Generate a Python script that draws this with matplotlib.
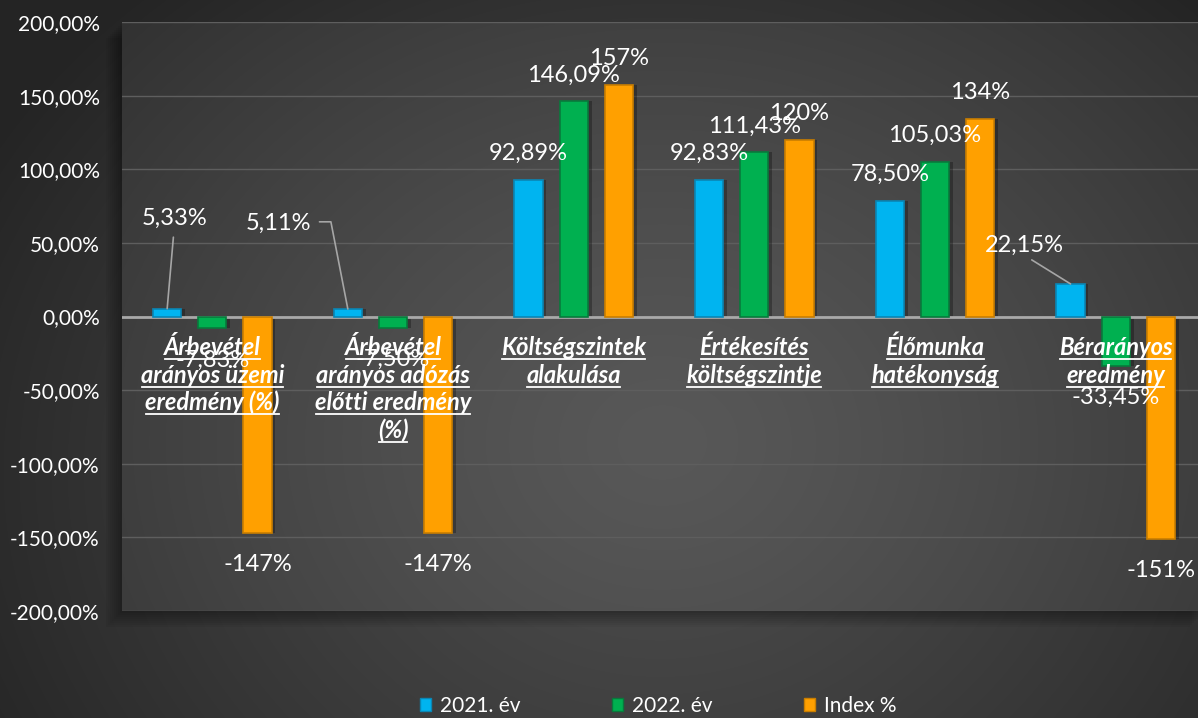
"""Grouped bar chart — 2021 vs 2022 ratios with index, dark Excel style."""

import matplotlib
matplotlib.use("Agg")
import matplotlib.pyplot as plt
import matplotlib.colors as mcolors
from matplotlib.patches import Patch, Rectangle
from matplotlib.lines import Line2D
import numpy as np

plt.rcParams["font.family"] = ["Lato", "DejaVu Sans"]

# ---- data ----
categories = [
    ["Árbevétel", "arányos üzemi", "eredmény (%)"],
    ["Árbevétel", "arányos adózás", "előtti eredmény", "(%)"],
    ["Költségszintek", "alakulása"],
    ["Értékesítés", "költségszintje"],
    ["Élőmunka", "hatékonyság"],
    ["Bérarányos", "eredmény"],
]
series_names = ["2021. év", "2022. év", "Index %"]
values_2021 = [5.33, 5.11, 92.89, 92.83, 78.50, 22.15]
values_2022 = [-7.83, -7.50, 146.09, 111.43, 105.03, -33.45]
values_index = [-147, -147, 157, 120, 134, -151]
y_ticks = [-200, -150, -100, -50, 0, 50, 100, 150, 200]

colors = ["#00B4F0", "#00B050", "#FFA000"]
edges = ["#0A86B4", "#087A3C", "#C97E00"]

W, H, DPI = 1198, 718, 100


def radial(w, h, cx, cy, r, c_in, c_out):
    yy, xx = np.mgrid[0:h, 0:w]
    d = np.clip(np.hypot(xx - cx, (yy - cy) * 1.2) / r, 0, 1) ** 1.3
    a = np.array(mcolors.to_rgb(c_in))
    b = np.array(mcolors.to_rgb(c_out))
    return a * (1 - d)[..., None] + b * d[..., None]


def fmt2(v):
    return f"{v:.2f}".replace(".", ",") + "%"


fig = plt.figure(figsize=(W / DPI, H / DPI), dpi=DPI)

# background
bg = fig.add_axes([0, 0, 1, 1])
bg.imshow(radial(W, H, 660, 470, 780, "#4c4c4c", "#242424"),
          extent=(0, 1, 0, 1), aspect="auto", origin="upper")
bg.set_xlim(0, 1)
bg.set_ylim(0, 1)
bg.axis("off")

# plot area placement (pixels)
px0, px1, py_top, py_bot = 122, 1206, 22, 611
axpos = [px0 / W, 1 - py_bot / H, (px1 - px0) / W, (py_bot - py_top) / H]

# soft shadow behind the plot area
for k in range(8):
    off = 2 + k * 2
    bg.add_patch(Rectangle((axpos[0] - off / W, axpos[1] - off / H),
                           axpos[2], axpos[3], facecolor="black",
                           alpha=0.045, edgecolor="none"))

ax = fig.add_axes(axpos)
ax.set_zorder(1)
ax.patch.set_alpha(0)
aw, ah = px1 - px0, py_bot - py_top
ax.imshow(radial(aw, ah, 540, 420, 760, "#585858", "#303030"),
          extent=(0, 1, 0, 1), transform=ax.transAxes, aspect="auto",
          origin="upper", zorder=0)

# grid
for t in y_ticks:
    if t == 0:
        ax.axhline(t, color="#a9a9a9", lw=2, zorder=2.5)
    else:
        ax.axhline(t, color="#5e5e5e", lw=1, zorder=1)

x = np.arange(len(categories))
offsets = [-0.25, 0.0, 0.25]
bar_w = 0.155
all_series = [values_2021, values_2022, values_index]

for s, vals in enumerate(all_series):
    xs = x + offsets[s]
    # shadow
    ax.bar(xs + 0.022, vals, width=bar_w, color="black", alpha=0.28,
           zorder=2)
    ax.bar(xs, vals, width=bar_w, color=colors[s], edgecolor=edges[s],
           linewidth=1.2, zorder=3)

# data labels; a few use leader lines
leader = {
    (0, 0): dict(xytext=(5, 65), relpos=(0.5, 0.0), conn="arc3"),
    (0, 1): dict(xytext=(-50, 62), relpos=(1.0, 0.55),
                 conn="angle,angleA=0,angleB=101,rad=0"),
    (0, 5): dict(xytext=(-33, 28), relpos=(0.5, 0.0), conn="arc3"),
}
for s, vals in enumerate(all_series):
    for i, v in enumerate(vals):
        label = f"{v:.0f}%" if s == 2 else fmt2(v)
        xv = x[i] + offsets[s]
        if (s, i) in leader:
            L = leader[(s, i)]
            ax.annotate(label, xy=(xv, v), xytext=L["xytext"],
                        textcoords="offset points", ha="center", va="center",
                        color="white", fontsize=17, zorder=6,
                        arrowprops=dict(arrowstyle="-", color="#a6a6a6",
                                        lw=1.2, relpos=L["relpos"],
                                        connectionstyle=L["conn"],
                                        patchA=None, shrinkA=6, shrinkB=0))
        else:
            dy = 19 if v >= 0 else -23
            ax.annotate(label, xy=(xv, v), xytext=(0, dy),
                        textcoords="offset points", ha="center", va="center",
                        color="white", fontsize=17, zorder=6)

# category labels (bold italic, underlined)
line_step = 19.8
first_base = 28
cat_texts = []
for i, lines in enumerate(categories):
    for j, line in enumerate(lines):
        dy = first_base + line_step * j
        t = ax.annotate(line, xy=(x[i], 0), xytext=(0, -dy),
                        textcoords="offset points", ha="center",
                        va="baseline", color="white", fontsize=17,
                        fontweight="bold", fontstyle="italic", zorder=7)
        cat_texts.append((t, i, dy))

ax.set_xlim(-0.5, len(categories) - 0.5)
ax.set_ylim(-200, 200)
ax.set_xticks([])
ax.set_yticks(y_ticks)
ax.set_yticklabels([fmt2(t) for t in y_ticks])
ax.tick_params(axis="y", length=0, pad=16, labelsize=15, labelcolor="white")
for sp in ax.spines.values():
    sp.set_visible(False)

# legend
handles = [Patch(facecolor=c, edgecolor=e) for c, e in zip(colors, edges)]
fig.legend(handles, series_names, loc="center",
           bbox_to_anchor=(658 / W, 1 - 706 / H), ncol=3, frameon=False,
           fontsize=15, labelcolor="white", handlelength=0.55,
           handleheight=0.55, handletextpad=0.4, columnspacing=4.4)

# underline the category labels
fig.canvas.draw()
renderer = fig.canvas.get_renderer()
inv = fig.transFigure.inverted()
for t, i, dy in cat_texts:
    bb = t.get_window_extent(renderer)
    base = ax.transData.transform((x[i], 0))[1] - dy * DPI / 72
    yl = base - 4
    (fx0, fy), (fx1, _) = inv.transform([(bb.x0 + 1, yl), (bb.x1 - 1, yl)])
    fig.add_artist(Line2D([fx0, fx1], [fy, fy], color="white", lw=1.3,
                          transform=fig.transFigure, zorder=10))

fig.savefig("out.png", dpi=DPI)
